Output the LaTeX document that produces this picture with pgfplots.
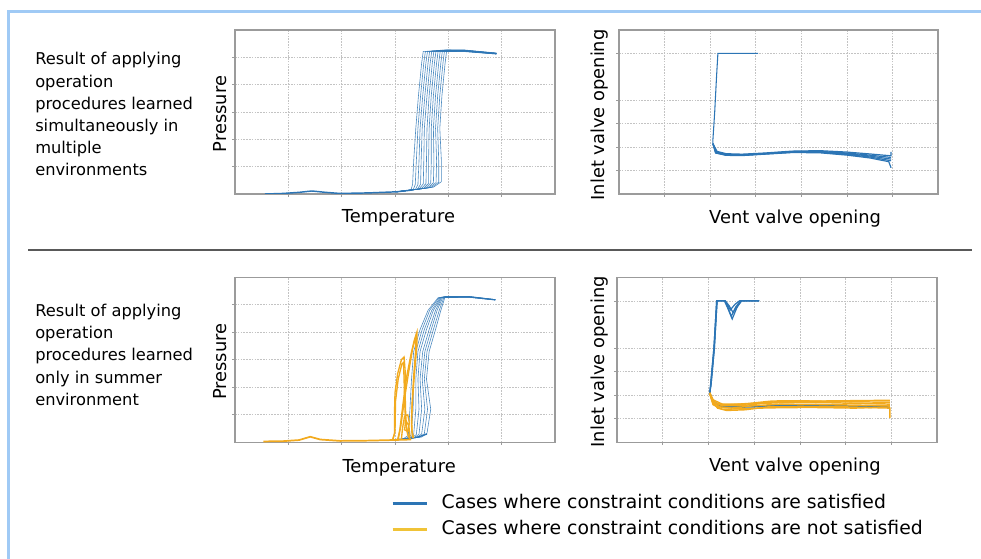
\documentclass[border=0pt]{standalone}
\usepackage{fontspec}
\setmainfont{DejaVu Sans}
\usepackage{pgfplots}
\pgfplotsset{compat=1.18}

\definecolor{cblue}{RGB}{44,117,181}
\definecolor{corange}{RGB}{242,170,30}
\definecolor{clegy}{RGB}{240,195,55}
\definecolor{framec}{RGB}{155,155,155}
\definecolor{gridc}{RGB}{195,195,195}
\definecolor{edgec}{RGB}{160,202,245}

\newcommand{\lt}{\fontsize{12.2}{14}\selectfont}

\pgfplotsset{
  panel/.style={
    scale only axis,
    axis line style={framec, line width=0.9pt},
    grid=major,
    major grid style={gridc, dash pattern=on 1.2pt off 0.9pt, line width=0.45pt},
    xticklabels={}, yticklabels={},
    tick style={framec, line width=0.5pt},
    tick align=outside,
    major tick length=2pt,
    tick pos=left,
    label style={font=\fontsize{13.4}{15}\selectfont},
  },
  tpanel/.style={panel, xmin=0, xmax=6, ymin=0, ymax=6, xtick={1,...,5}, ytick={1,...,5}, width=240pt},
  vpanel/.style={panel, xmin=0, xmax=7, ymin=0, ymax=7, xtick={1,...,6}, ytick={1,2,3,4,6}},
  fam/.style={cblue, line width=0.45pt, opacity=0.85},
  bb/.style={cblue, line width=0.9pt},
  oo/.style={corange, line width=1pt},
  legend image code/.code={\draw[#1] (0pt,0pt) -- (26pt,0pt);},
}

\begin{document}
\begin{tikzpicture}
\useasboundingbox (0pt,0pt) rectangle (735.75pt,-419.25pt);
\draw[edgec, line width=2.1pt] (6.5pt,-419.25pt) -- (6.5pt,-8.4pt) -- (735.75pt,-8.4pt);
\draw[black!65, line width=1.5pt] (21pt,-187.5pt) -- (729pt,-187.5pt);

% row captions
\node[anchor=base west, inner sep=0pt, font=\lt] at (26.25pt,-48.75pt) {Result of applying};
\node[anchor=base west, inner sep=0pt, font=\lt] at (26.25pt,-65.3pt) {operation};
\node[anchor=base west, inner sep=0pt, font=\lt] at (26.25pt,-81.9pt) {procedures learned};
\node[anchor=base west, inner sep=0pt, font=\lt] at (26.25pt,-98.5pt) {simultaneously in};
\node[anchor=base west, inner sep=0pt, font=\lt] at (26.25pt,-115.05pt) {multiple};
\node[anchor=base west, inner sep=0pt, font=\lt] at (26.25pt,-131.6pt) {environments};

\node[anchor=base west, inner sep=0pt, font=\lt] at (26.25pt,-237.5pt) {Result of applying};
\node[anchor=base west, inner sep=0pt, font=\lt] at (26.25pt,-254.1pt) {operation};
\node[anchor=base west, inner sep=0pt, font=\lt] at (26.25pt,-270.7pt) {procedures learned};
\node[anchor=base west, inner sep=0pt, font=\lt] at (26.25pt,-287.3pt) {only in summer};
\node[anchor=base west, inner sep=0pt, font=\lt] at (26.25pt,-303.9pt) {environment};

% top left: pressure vs temperature, multiple environments
\begin{axis}[tpanel, at={(176.25pt,-145.5pt)}, anchor=south west, height=123pt,
  xlabel={Temperature}, ylabel={Pressure},
  xlabel style={at={(axis description cs:0.511,-0.175)}, anchor=base},
  ylabel style={at={(axis description cs:-0.026,0.488)}, anchor=base}]
\addplot[cblue, line width=1.1pt] coordinates {(0.56,0.0)(0.9,0.02)(1.2,0.06)(1.44,0.11)(1.7,0.06)(1.97,0.02)(2.5,0.04)(3.03,0.08)(3.3,0.14)};
\addplot[fam] coordinates {(3.03,0.08)(3.30,0.15)(3.33,0.35)(3.35,1.2)(3.39,2.4)(3.44,3.6)(3.50,4.8)(3.53,5.22)(4.3,5.21)(4.9,5.12)};
\addplot[fam] coordinates {(3.03,0.08)(3.34,0.15)(3.38,0.35)(3.40,1.2)(3.43,2.4)(3.48,3.6)(3.54,4.8)(3.57,5.22)(4.3,5.22)(4.9,5.12)};
\addplot[fam] coordinates {(3.03,0.08)(3.38,0.16)(3.43,0.35)(3.45,1.2)(3.47,2.4)(3.52,3.6)(3.58,4.8)(3.61,5.23)(4.3,5.22)(4.9,5.13)};
\addplot[fam] coordinates {(3.03,0.08)(3.42,0.17)(3.48,0.36)(3.49,1.2)(3.51,2.4)(3.56,3.6)(3.62,4.8)(3.65,5.23)(4.3,5.23)(4.9,5.13)};
\addplot[fam] coordinates {(3.03,0.08)(3.45,0.18)(3.53,0.37)(3.54,1.2)(3.55,2.4)(3.60,3.6)(3.66,4.8)(3.69,5.24)(4.3,5.23)(4.9,5.13)};
\addplot[fam] coordinates {(3.03,0.08)(3.49,0.19)(3.58,0.38)(3.59,1.2)(3.60,2.4)(3.64,3.6)(3.70,4.8)(3.73,5.24)(4.3,5.24)(4.9,5.14)};
\addplot[fam] coordinates {(3.03,0.08)(3.53,0.20)(3.63,0.39)(3.63,1.2)(3.64,2.4)(3.68,3.6)(3.74,4.8)(3.77,5.25)(4.3,5.24)(4.9,5.14)};
\addplot[fam] coordinates {(3.03,0.08)(3.57,0.21)(3.67,0.40)(3.68,1.2)(3.68,2.4)(3.72,3.6)(3.78,4.8)(3.81,5.25)(4.3,5.25)(4.9,5.14)};
\addplot[fam] coordinates {(3.03,0.08)(3.61,0.22)(3.72,0.41)(3.73,1.2)(3.72,2.4)(3.76,3.6)(3.82,4.8)(3.85,5.26)(4.3,5.25)(4.9,5.15)};
\addplot[fam] coordinates {(3.03,0.08)(3.64,0.23)(3.77,0.42)(3.78,1.2)(3.76,2.4)(3.80,3.6)(3.86,4.8)(3.89,5.26)(4.3,5.26)(4.9,5.15)};
\addplot[fam] coordinates {(3.03,0.08)(3.68,0.24)(3.82,0.43)(3.82,1.2)(3.80,2.4)(3.84,3.6)(3.90,4.8)(3.93,5.27)(4.3,5.26)(4.9,5.15)};
\addplot[fam] coordinates {(3.03,0.08)(3.72,0.25)(3.87,0.45)(3.87,1.2)(3.84,2.4)(3.88,3.6)(3.94,4.8)(3.97,5.27)(4.3,5.27)(4.9,5.16)};
\end{axis}

% top right: inlet vs vent valve, multiple environments
\begin{axis}[vpanel, at={(464.25pt,-145.5pt)}, anchor=south west, width=239.25pt, height=123pt,
  xlabel={Vent valve opening}, ylabel={Inlet valve opening},
  xlabel style={at={(axis description cs:0.552,-0.179)}, anchor=base},
  ylabel style={at={(axis description cs:-0.045,0.482)}, anchor=base}]
\addplot[cblue, line width=0.8pt] coordinates {(3.05,6.0)(2.17,6.0)(2.14,5.0)(2.10,3.5)(2.06,2.3)(2.06,2.15)};
\addplot[bb] coordinates {(2.06,2.15)(2.15,1.82)(2.35,1.72)(2.7,1.70)(3.2,1.75)(3.8,1.83)(4.4,1.85)(5.0,1.79)(5.5,1.71)(5.97,1.63)(5.97,1.80)};
\addplot[bb] coordinates {(2.06,2.15)(2.14,1.79)(2.35,1.69)(2.7,1.67)(3.2,1.73)(3.8,1.81)(4.4,1.82)(5.0,1.75)(5.5,1.66)(5.97,1.56)};
\addplot[bb] coordinates {(2.06,2.15)(2.13,1.77)(2.35,1.67)(2.7,1.66)(3.2,1.72)(3.8,1.80)(4.4,1.80)(5.0,1.72)(5.5,1.62)(5.97,1.49)};
\addplot[bb] coordinates {(2.06,2.15)(2.12,1.76)(2.35,1.66)(2.7,1.65)(3.2,1.71)(3.8,1.78)(4.4,1.78)(5.0,1.69)(5.5,1.58)(5.97,1.42)};
\addplot[bb] coordinates {(2.06,2.15)(2.12,1.75)(2.35,1.65)(2.7,1.64)(3.2,1.70)(3.8,1.77)(4.4,1.76)(5.0,1.66)(5.5,1.54)(5.92,1.38)(5.97,1.12)};
\end{axis}

% bottom left: pressure vs temperature, summer only
\begin{axis}[tpanel, at={(176.25pt,-331.7pt)}, anchor=south west, height=123.75pt,
  xlabel={Temperature}, ylabel={Pressure},
  xlabel style={at={(axis description cs:0.513,-0.184)}, anchor=base},
  ylabel style={at={(axis description cs:-0.026,0.488)}, anchor=base}]
\addplot[cblue, line width=1pt] coordinates {(2.9,0.08)(3.2,0.12)(3.45,0.2)(3.6,0.3)};
\addplot[fam] coordinates {(3.0,0.08)(3.15,0.12)(3.25,0.25)(3.28,1.2)(3.31,2.3)(3.35,3.3)(3.47,4.1)(3.62,4.8)(3.81,5.26)(4.4,5.27)(4.88,5.17)};
\addplot[fam] coordinates {(3.0,0.08)(3.20,0.13)(3.30,0.26)(3.34,1.2)(3.35,2.3)(3.39,3.3)(3.51,4.1)(3.65,4.8)(3.83,5.27)(4.4,5.27)(4.88,5.17)};
\addplot[fam] coordinates {(3.0,0.08)(3.25,0.14)(3.35,0.27)(3.39,1.2)(3.39,2.3)(3.43,3.3)(3.55,4.1)(3.69,4.8)(3.85,5.27)(4.4,5.28)(4.88,5.18)};
\addplot[fam] coordinates {(3.0,0.08)(3.30,0.15)(3.40,0.28)(3.45,1.2)(3.43,2.3)(3.47,3.3)(3.59,4.1)(3.72,4.8)(3.87,5.28)(4.4,5.28)(4.88,5.18)};
\addplot[fam] coordinates {(3.0,0.08)(3.35,0.16)(3.45,0.29)(3.50,1.2)(3.47,2.3)(3.52,3.3)(3.64,4.1)(3.76,4.8)(3.88,5.28)(4.4,5.29)(4.88,5.18)};
\addplot[fam] coordinates {(3.0,0.08)(3.40,0.17)(3.50,0.30)(3.56,1.2)(3.51,2.3)(3.56,3.3)(3.68,4.1)(3.79,4.8)(3.90,5.29)(4.4,5.29)(4.88,5.19)};
\addplot[fam] coordinates {(3.0,0.08)(3.45,0.18)(3.55,0.31)(3.61,1.2)(3.55,2.3)(3.60,3.3)(3.72,4.1)(3.83,4.8)(3.92,5.29)(4.4,5.30)(4.88,5.19)};
\addplot[fam] coordinates {(3.0,0.08)(3.50,0.19)(3.60,0.33)(3.67,1.2)(3.59,2.3)(3.64,3.3)(3.76,4.1)(3.86,4.8)(3.94,5.30)(4.4,5.30)(4.88,5.19)};
\addplot[corange, line width=1.3pt] coordinates {(0.53,0.03)(0.9,0.04)(1.2,0.08)(1.41,0.2)(1.6,0.1)(1.97,0.05)(2.5,0.06)(2.95,0.08)(3.3,0.1)};
\addplot[oo] coordinates {(2.95,0.08)(2.99,0.3)(2.99,1.0)(3.0,1.8)(3.05,2.5)(3.12,3.0)(3.17,3.1)(3.19,2.6)(3.19,1.8)(3.20,1.0)(3.22,0.5)(3.25,0.2)(3.3,0.1)};
\addplot[oo] coordinates {(2.96,0.08)(3.0,0.4)(3.01,1.5)(3.06,2.3)(3.13,2.85)(3.16,2.9)(3.17,2.3)(3.18,1.5)(3.20,0.7)(3.24,0.25)};
\addplot[oo] coordinates {(3.05,0.1)(3.09,0.45)(3.15,1.4)(3.22,2.4)(3.30,3.2)(3.36,3.7)(3.41,4.0)(3.41,3.5)(3.37,2.6)(3.33,1.6)(3.31,0.9)(3.32,0.4)(3.35,0.15)};
\addplot[oo] coordinates {(3.06,0.1)(3.11,0.6)(3.18,1.6)(3.26,2.6)(3.33,3.4)(3.39,3.85)(3.39,3.4)(3.35,2.4)(3.32,1.4)(3.31,0.6)(3.33,0.15)};
\addplot[oo] coordinates {(3.12,0.1)(3.14,0.5)(3.18,0.95)(3.24,1.0)(3.27,0.7)(3.24,0.4)(3.18,0.45)(3.20,0.8)(3.26,0.6)(3.28,0.2)};
\end{axis}

% bottom right: inlet vs vent valve, summer only
\begin{axis}[vpanel, at={(462.75pt,-331.7pt)}, anchor=south west, width=240pt, height=123.75pt,
  xlabel={Vent valve opening}, ylabel={Inlet valve opening},
  xlabel style={at={(axis description cs:0.556,-0.178)}, anchor=base},
  ylabel style={at={(axis description cs:-0.038,0.488)}, anchor=base},
  legend style={at={(axis description cs:-0.706,-0.289)}, anchor=north west, draw=none, fill=none,
    font=\fontsize{14.1}{17}\selectfont, inner sep=0pt, row sep=0pt,
    nodes={inner xsep=5.25pt, inner ysep=2.5pt, text height=11pt, text depth=3.5pt},
    /tikz/every odd column/.append style={column sep=4.5pt}},
  legend cell align=left]
\addlegendimage{cblue, line width=2pt}
\addlegendentry{Cases where constraint conditions are satisfied}
\addlegendimage{clegy, line width=2pt}
\addlegendentry{Cases where constraint conditions are not satisfied}
\addplot[bb, forget plot] coordinates {(3.11,6.0)(2.72,6.0)(2.62,5.7)(2.52,5.23)(2.42,5.7)(2.35,6.0)(2.18,6.0)(2.12,4.0)(2.05,2.5)(2.03,2.08)(2.10,1.72)(2.25,1.55)(2.6,1.50)(3.0,1.52)(3.5,1.55)(4.0,1.56)(4.5,1.54)(5.2,1.52)(5.97,1.50)};
\addplot[bb, forget plot] coordinates {(3.11,6.0)(2.70,6.0)(2.60,5.75)(2.50,5.35)(2.42,5.75)(2.36,6.0)(2.19,6.0)(2.13,4.0)(2.06,2.5)(2.03,2.10)(2.10,1.70)(2.25,1.52)(2.6,1.48)(3.0,1.50)(3.5,1.52)(4.0,1.53)(4.5,1.52)(5.2,1.50)(5.97,1.48)};
\addplot[bb, forget plot] coordinates {(3.11,6.0)(2.73,6.0)(2.64,5.8)(2.54,5.50)(2.45,5.8)(2.37,6.0)(2.18,6.0)(2.12,4.0)(2.05,2.5)(2.03,2.08)(2.11,1.74)(2.25,1.57)(2.6,1.52)(3.0,1.54)(3.5,1.57)(4.0,1.58)(4.5,1.56)(5.2,1.54)(5.97,1.52)};
\addplot[bb, forget plot] coordinates {(3.11,6.0)(2.68,6.0)(2.58,5.85)(2.48,5.62)(2.41,5.85)(2.35,6.0)(2.19,6.0)(2.13,4.0)(2.06,2.5)(2.03,2.10)};
\addplot[oo, line width=1.1pt, forget plot] coordinates {(2.03,2.10)(2.08,1.75)(2.20,1.45)(2.40,1.35)(2.8,1.38)(3.3,1.50)(4.0,1.52)(5.0,1.50)(5.97,1.45)(5.97,1.02)};
\addplot[oo, line width=1.1pt, forget plot] coordinates {(2.03,2.05)(2.10,1.70)(2.25,1.50)(2.50,1.45)(3.0,1.55)(3.6,1.62)(4.5,1.60)(5.97,1.55)};
\addplot[oo, line width=1.1pt, forget plot] coordinates {(2.04,2.00)(2.12,1.70)(2.30,1.55)(2.70,1.55)(3.2,1.65)(3.8,1.70)(4.6,1.68)(5.97,1.62)};
\addplot[oo, line width=1.1pt, forget plot] coordinates {(2.05,1.95)(2.15,1.65)(2.40,1.58)(2.90,1.65)(3.4,1.75)(4.0,1.76)(5.0,1.72)(5.97,1.70)};
\addplot[oo, line width=1.1pt, forget plot] coordinates {(2.03,2.10)(2.10,1.80)(2.30,1.62)(2.80,1.62)(3.5,1.72)(4.5,1.75)(5.97,1.78)};
\addplot[oo, line width=1.1pt, forget plot] coordinates {(2.04,2.00)(2.10,1.60)(2.30,1.40)(2.70,1.42)(3.3,1.46)(4.2,1.48)(5.2,1.45)(5.97,1.50)};
\end{axis}
\end{tikzpicture}
\end{document}
